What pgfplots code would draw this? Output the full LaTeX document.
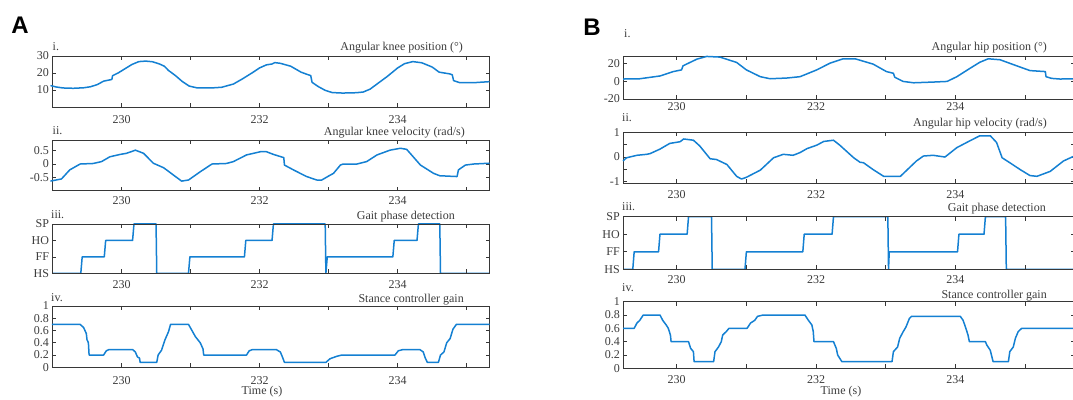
\documentclass[border=0pt]{standalone}
\usepackage{fontspec}
\setmainfont{Liberation Serif}
\newfontfamily\labfont{Liberation Sans}
\usepackage{pgfplots}
\pgfplotsset{compat=1.18}
\definecolor{mblue}{RGB}{20,128,210}
\definecolor{axgray}{RGB}{55,55,55}
\definecolor{txtgray}{RGB}{60,60,60}
\pgfplotsset{
  panel/.style={scale only axis, clip=false,
    axis line style={draw=axgray, line width=0.8pt},
    tick style={draw=axgray, line width=0.7pt},
    major tick length=4pt, tick align=inside,
    tick label style={font=\fontsize{12}{13}\selectfont, text=txtgray},
    cycle list={{mblue, mark=none}},
    every axis plot post/.append style={line width=1.5pt, line join=round},
    /pgf/number format/assume math mode=true},
  Apanel/.style={panel, width=437pt, xmin=229.0, xmax=235.33,
    xtick={230,231,232,233,234,235}, xticklabels={230,,232,,234,}},
  Bpanel/.style={panel, width=452pt, xmin=229.234, xmax=235.72,
    xtick={230,231,232,233,234,235}, xticklabels={230,,232,,234,}},
  gait/.style={clip=true, axis on top, ymin=0, ymax=3, ytick={0,1,2,3}, yticklabels={HS,FF,HO,SP}},
}
\begin{document}
\begin{tikzpicture}
% ---------------- Panel A ----------------
\begin{axis}[Apanel, at={(52.5pt,292pt)}, anchor=south west, height=51pt,
  ymin=0, ymax=30, ytick={10,20,30}, yticklabels={10,20,30},
  xticklabel style={yshift=-5pt}]
\addplot coordinates {(228.97,12.6) (229.05,11.8) (229.15,11.2) (229.3,11.0) (229.45,11.3) (229.55,11.9) (229.65,13.2) (229.74,15.2) (229.86,16.2) (229.87,18.4) (229.95,20.0) (230.05,22.5) (230.15,25.0) (230.25,26.7) (230.35,27.0) (230.45,26.6) (230.55,25.3) (230.62,24.0) (230.68,21.5) (230.78,18.5) (230.88,15) (230.98,12.3) (231.1,11.2) (231.3,11.2) (231.45,11.6) (231.62,13.5) (231.75,16.5) (231.9,20.3) (232.0,23) (232.1,24.8) (232.18,25.3) (232.22,26.1) (232.3,25.7) (232.45,24) (232.6,20.5) (232.7,19) (232.74,18.5) (232.76,14.5) (232.85,12) (232.95,9.8) (233.05,8.5) (233.2,8.2) (233.4,8.4) (233.5,8.8) (233.6,10.5) (233.7,13.5) (233.85,18) (234.0,23) (234.1,25.5) (234.22,26.7) (234.35,26) (234.5,23.5) (234.6,20.5) (234.75,19.5) (234.79,19) (234.81,15.5) (234.9,14.3) (235.1,14.3) (235.33,14.9)};
\end{axis}
\begin{axis}[Apanel, at={(52.5pt,208.3pt)}, anchor=south west, height=50.7pt,
  ymin=-1, ymax=0.9, ytick={-0.5,0,0.5}, yticklabels={-0.5,0,0.5},
  xticklabel style={yshift=-2pt}]
\addplot coordinates {(228.97,-0.64) (229.13,-0.56) (229.25,-0.22) (229.40,0) (229.59,0.02) (229.71,0.09) (229.83,0.27) (229.98,0.36) (230.07,0.40) (230.17,0.49) (230.20,0.52) (230.32,0.40) (230.46,0.03) (230.61,-0.14) (230.75,-0.41) (230.87,-0.64) (230.97,-0.60) (231.14,-0.29) (231.31,0) (231.52,0.02) (231.62,0.09) (231.81,0.34) (232.01,0.46) (232.10,0.46) (232.20,0.36) (232.35,0.24) (232.36,-0.04) (232.49,-0.22) (232.68,-0.47) (232.83,-0.60) (232.90,-0.60) (233.00,-0.45) (233.07,-0.35) (233.17,-0.04) (233.21,0) (233.41,0) (233.55,0.09) (233.70,0.34) (233.89,0.52) (234.04,0.59) (234.13,0.55) (234.33,-0.04) (234.52,-0.35) (234.61,-0.44) (234.86,-0.47) (234.88,-0.22) (234.98,-0.04) (235.10,0) (235.33,0.03)};
\end{axis}
\begin{axis}[Apanel, gait, at={(52.5pt,125.7pt)}, anchor=south west, height=49.3pt,
  xticklabel style={yshift=-3.5pt}]
\addplot coordinates {(228.97,0) (229.41,0) (229.43,1) (229.75,1) (229.77,2) (230.16,2) (230.18,3) (230.50,3) (230.51,0) (230.97,0) (230.99,1) (231.78,1) (231.80,2) (232.18,2) (232.20,3) (232.95,3) (232.96,0) (232.98,1) (233.93,1) (233.95,2) (234.28,2) (234.30,3) (234.61,3) (234.62,0) (235.33,0)};
\end{axis}
\begin{axis}[Apanel, at={(52.5pt,31.7pt)}, anchor=south west, height=61.3pt,
  ymin=0, ymax=1, ytick={0,0.2,0.4,0.6,0.8,1}, yticklabels={0,0.2,0.4,0.6,0.8,1},
  xticklabel style={yshift=-5.5pt}]
\addplot coordinates {(228.99,0.7) (229.40,0.7) (229.45,0.65) (229.49,0.55) (229.50,0.45) (229.52,0.4) (229.53,0.2) (229.74,0.2) (229.78,0.27) (229.82,0.29) (230.16,0.29) (230.20,0.25) (230.23,0.17) (230.26,0.15) (230.27,0.08) (230.51,0.08) (230.53,0.2) (230.58,0.28) (230.63,0.45) (230.68,0.58) (230.71,0.7) (230.97,0.7) (231.02,0.6) (231.07,0.5) (231.14,0.4) (231.18,0.3) (231.19,0.2) (231.81,0.2) (231.85,0.27) (231.90,0.29) (232.24,0.29) (232.30,0.25) (232.33,0.17) (232.36,0.08) (232.96,0.08) (233.02,0.14) (233.12,0.18) (233.19,0.2) (233.96,0.2) (234.01,0.27) (234.08,0.29) (234.32,0.29) (234.37,0.25) (234.40,0.15) (234.43,0.08) (234.59,0.08) (234.62,0.2) (234.67,0.25) (234.71,0.4) (234.76,0.47) (234.80,0.62) (234.85,0.7) (235.33,0.7)};
\end{axis}
% ---------------- Panel B ----------------
\begin{axis}[Bpanel, at={(623.3pt,300pt)}, anchor=south west, height=43pt,
  ymin=-20, ymax=28, ytick={-20,0,20}, yticklabels={-20,0,20},
  xticklabel style={yshift=0pt}]
\addplot coordinates {(229.23,2.3) (229.47,2.6) (229.76,5.7) (229.95,10.6) (230.07,12.5) (230.09,17) (230.29,24.5) (230.43,27.5) (230.62,26.8) (230.86,20.8) (231.00,12.5) (231.20,4.9) (231.34,2.6) (231.58,3.4) (231.77,4.9) (232.01,12.5) (232.20,20) (232.39,24.9) (232.56,24.9) (232.82,18.9) (233.01,10.6) (233.11,8.7) (233.13,4.2) (233.25,-0.4) (233.40,-1.9) (233.68,-1.1) (233.88,-0.4) (234.02,4.9) (234.21,14.3) (234.35,21) (234.47,24.9) (234.64,23.8) (234.88,17) (235.07,11.7) (235.29,10.6) (235.30,4.9) (235.38,3) (235.50,2.3) (235.72,2.5)};
\end{axis}
\begin{axis}[Bpanel, at={(623.3pt,216pt)}, anchor=south west, height=50.7pt,
  ymin=-1.05, ymax=1, ytick={-1,-0.5,0,0.5,1}, yticklabels={-1,,0,,1},
  xticklabel style={yshift=-4pt}]
\addplot coordinates {(229.23,-0.16) (229.28,-0.03) (229.43,0.07) (229.57,0.11) (229.62,0.14) (229.76,0.32) (229.90,0.55) (230.05,0.62) (230.10,0.73) (230.24,0.68) (230.33,0.45) (230.48,-0.07) (230.57,-0.10) (230.72,-0.30) (230.86,-0.78) (230.93,-0.89) (231.00,-0.82) (231.20,-0.53) (231.39,-0.03) (231.53,0.11) (231.67,0.07) (231.77,0.18) (231.87,0.34) (232.01,0.48) (232.11,0.63) (232.25,0.68) (232.34,0.48) (232.54,-0.03) (232.63,-0.21) (232.68,-0.23) (232.82,-0.51) (232.97,-0.78) (233.21,-0.78) (233.44,-0.16) (233.54,0.04) (233.68,0.07) (233.85,0) (234.02,0.38) (234.21,0.66) (234.35,0.86) (234.50,0.86) (234.59,0.59) (234.67,-0.03) (234.78,-0.23) (234.93,-0.51) (235.07,-0.75) (235.17,-0.78) (235.36,-0.58) (235.55,-0.16) (235.72,0.06)};
\end{axis}
\begin{axis}[Bpanel, gait, at={(623.3pt,129.7pt)}, anchor=south west, height=52.6pt,
  xticklabel style={yshift=-3pt}]
\addplot coordinates {(229.234,0) (229.37,0) (229.39,1) (229.74,1) (229.76,2) (230.15,2) (230.17,3) (230.50,3) (230.51,0) (230.98,0) (231.00,1) (231.81,1) (231.83,2) (232.23,2) (232.25,3) (233.03,3) (233.04,0) (233.05,1) (234.03,1) (234.05,2) (234.41,2) (234.43,3) (234.72,3) (234.73,0) (235.72,0)};
\end{axis}
\begin{axis}[Bpanel, at={(623.3pt,30.7pt)}, anchor=south west, height=66.6pt,
  ymin=0, ymax=1, ytick={0,0.2,0.4,0.6,0.8,1}, yticklabels={0,0.2,0.4,0.6,0.8,1},
  xticklabel style={yshift=-4pt}]
\addplot coordinates {(229.23,0.6) (229.39,0.6) (229.43,0.68) (229.47,0.72) (229.52,0.8) (229.76,0.8) (229.80,0.72) (229.85,0.65) (229.88,0.6) (229.91,0.5) (229.92,0.4) (230.17,0.4) (230.20,0.3) (230.24,0.25) (230.25,0.1) (230.53,0.1) (230.55,0.25) (230.60,0.32) (230.64,0.4) (230.66,0.5) (230.71,0.55) (230.75,0.6) (231.01,0.6) (231.06,0.68) (231.12,0.72) (231.16,0.78) (231.24,0.8) (231.84,0.8) (231.89,0.72) (231.94,0.65) (231.96,0.55) (231.97,0.4) (232.25,0.4) (232.29,0.3) (232.31,0.2) (232.34,0.15) (232.37,0.1) (233.09,0.1) (233.11,0.25) (233.17,0.32) (233.20,0.45) (233.25,0.55) (233.29,0.62) (233.34,0.75) (233.37,0.78) (234.07,0.78) (234.11,0.72) (234.15,0.6) (234.18,0.5) (234.20,0.4) (234.43,0.4) (234.45,0.35) (234.50,0.27) (234.54,0.1) (234.76,0.1) (234.78,0.25) (234.83,0.32) (234.86,0.45) (234.90,0.55) (234.95,0.6) (235.72,0.6)};
\end{axis}
% ---------------- Text ----------------
\begin{scope}[every node/.append style={inner sep=0pt, font=\fontsize{12}{13}\selectfont, text=txtgray}]
\node[anchor=base west] at (52.5pt,348.5pt) {i.};
\node[anchor=base east] at (463pt,348.5pt) {Angular knee position (°)};
\node[anchor=base west] at (52.5pt,264pt) {ii.};
\node[anchor=base east] at (465pt,263.5pt) {Angular knee velocity (rad/s)};
\node[anchor=base west] at (51pt,180.5pt) {iii.};
\node[anchor=base east] at (455pt,179.5pt) {Gait phase detection};
\node[anchor=base west] at (51pt,97pt) {iv.};
\node[anchor=base east] at (464pt,96.5pt) {Stance controller gain};
\node[anchor=center] at (262pt,7pt) {Time (s)};
\node[anchor=base west] at (624pt,361pt) {i.};
\node[anchor=base east] at (1047pt,348pt) {Angular hip position (°)};
\node[anchor=base west] at (622pt,277pt) {ii.};
\node[anchor=base east] at (1047pt,272.5pt) {Angular hip velocity (rad/s)};
\node[anchor=base west] at (622pt,188.5pt) {iii.};
\node[anchor=base east] at (1046pt,187.5pt) {Gait phase detection};
\node[anchor=base west] at (622pt,107pt) {iv.};
\node[anchor=base east] at (1047pt,100pt) {Stance controller gain};
\node[anchor=center] at (841pt,7pt) {Time (s)};
\end{scope}
\node[inner sep=0pt, font=\labfont\bfseries\fontsize{24}{24}\selectfont, text=black] at (20pt,374pt) {A};
\node[inner sep=0pt, font=\labfont\bfseries\fontsize{24}{24}\selectfont, text=black] at (592pt,372pt) {B};
\pgfresetboundingbox
\useasboundingbox (0pt,0pt) rectangle (1073pt,399pt);
\end{tikzpicture}
\end{document}
